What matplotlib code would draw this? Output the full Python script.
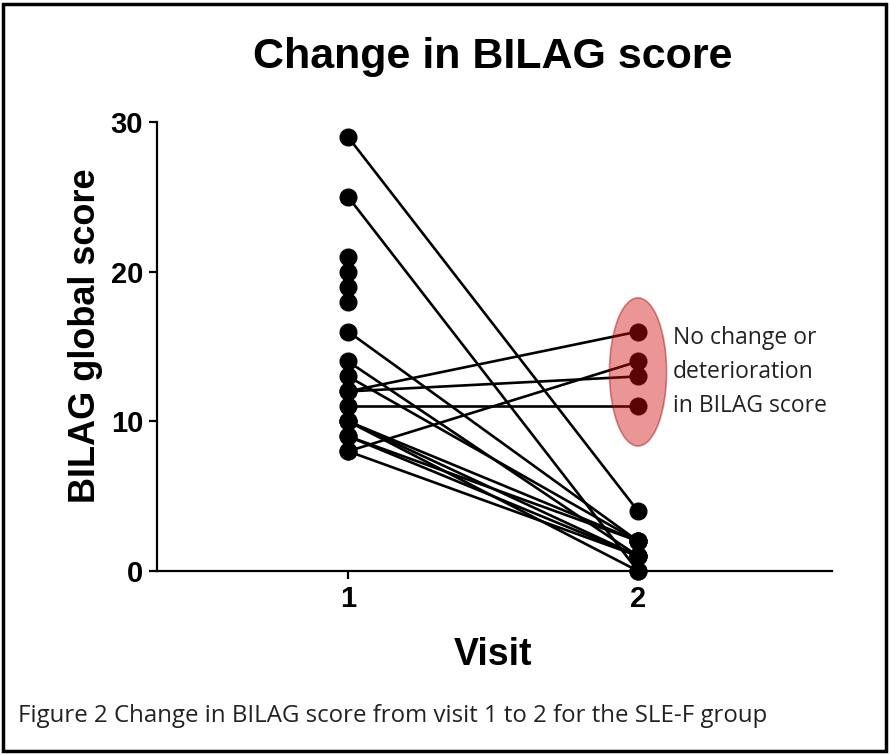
import numpy as np
import matplotlib
matplotlib.use("Agg")
import matplotlib.pyplot as plt
from matplotlib.patches import Ellipse, Rectangle

# Data: BILAG global score at visit 1 and visit 2 for each subject (nan = no visit 2)
visit1 = [29, 25, 21, 20, 19, 18, 16, 14, 13, 12, 12, 11, 10, 10, 10, 9, 9, 8, 8]
visit2 = [4, 0, np.nan, np.nan, np.nan, np.nan, 2, 1, 2, 16, 13, 11, 1, 2, 0, 1, 2, 14, 1]
visits = [1, 2]
yticks = [0, 10, 20, 30]

title = "Change in BILAG score"
ylabel = "BILAG global score"
xlabel = "Visit"
note = "No change or\ndeterioration\nin BILAG score"
caption = "Figure 2 Change in BILAG score from visit 1 to 2 for the SLE-F group"

fig = plt.figure(figsize=(8.9, 7.54), dpi=100)
ax = fig.add_axes([157/890, (754-571)/754, (832-157)/890, (571-122)/754])

for a, b in zip(visit1, visit2):
    if np.isnan(b):
        ax.plot([visits[0]], [a], "o", color="black", ms=12, clip_on=False, zorder=3)
    else:
        ax.plot(visits, [a, b], "-o", color="black", lw=1.9, ms=12, clip_on=False, zorder=3)

# highlight ellipse around non-improving subjects at visit 2
ell = Ellipse((2, 13.3), width=0.197, height=9.9, facecolor=(0.82, 0.05, 0.05), alpha=0.43,
              edgecolor=(0.6, 0.0, 0.0), lw=1.2, zorder=4)
ax.add_patch(ell)
ax.text(2.12, 13.3, note, ha="left", va="center", fontsize=16.5, family="Open Sans",
        color="#222222", linespacing=1.55, zorder=5)

ax.set_xlim(0.341, 2.669)
ax.set_ylim(0, 30)
ax.set_xticks(visits)
ax.set_xticklabels([str(v) for v in visits])
ax.set_yticks(yticks)
ax.set_yticklabels([str(t) for t in yticks])
for s in ["top", "right"]:
    ax.spines[s].set_visible(False)
for s in ["left", "bottom"]:
    ax.spines[s].set_linewidth(1.6)
ax.tick_params(axis="both", width=1.6, length=6, labelsize=21, pad=4)
for lab in ax.get_xticklabels() + ax.get_yticklabels():
    lab.set_fontweight("bold")
    lab.set_family("Liberation Sans")

ax.set_ylabel(ylabel, fontsize=26, fontweight="bold", family="Liberation Sans")
ax.yaxis.set_label_coords(-0.08, 0.525)
fig.text(493/890, 1 - 655/754, xlabel, ha="center", va="center", fontsize=27,
         fontweight="bold", family="Liberation Sans")
fig.text(493/890, 1 - 57/754, title, ha="center", va="center", fontsize=31,
         fontweight="bold", family="Liberation Sans")
fig.text(18/890, 1 - 716/754, caption, ha="left", va="center", fontsize=17.3,
         family="Open Sans", color="#222222")

fig.patches.append(Rectangle((3/890, 3/754), 883/890, 747/754, transform=fig.transFigure,
                             fill=False, edgecolor="black", lw=2.5))

fig.savefig("out.png", dpi=100)
